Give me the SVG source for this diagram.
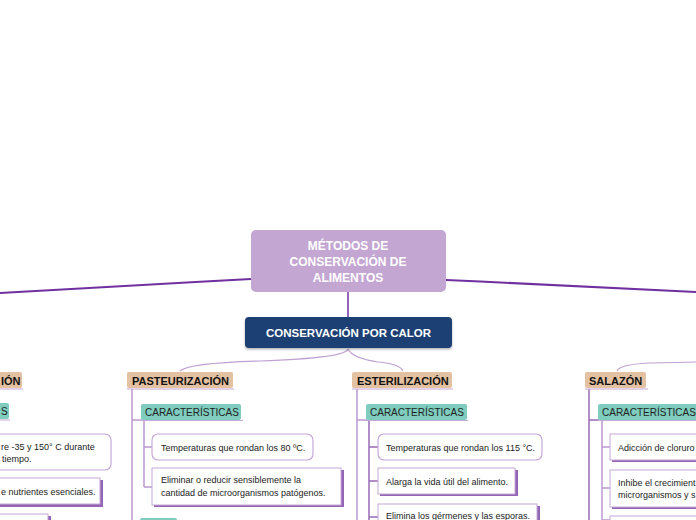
<svg xmlns="http://www.w3.org/2000/svg" width="696" height="520" viewBox="0 0 696 520">
<defs>
<style>
.main{fill:none;stroke:#7030a0;stroke-width:2}
.sub{fill:none;stroke:#bfa0d3;stroke-width:1.2}
.col{fill:none;stroke:#bb98cf;stroke-width:1.5}
.inner{fill:none;stroke:#9a6bb8;stroke-width:1.5}
.tan{fill:#e3c1a1}
.teal{fill:#7ecdbf}
.ul{stroke:#c6a8d8;stroke-width:1.2}
.leafR{fill:#fff;stroke:#c6a8d8;stroke-width:1.2}
.leafS{fill:#fff;stroke:#c6a8d8;stroke-width:1}
.shd{fill:#9565b5}
.t1{font-family:"Liberation Sans",Arial,sans-serif;font-size:11px;font-weight:bold;fill:#111}
.t2{font-family:"Liberation Sans",Arial,sans-serif;font-size:10px;fill:#222}
.t3{font-family:"Liberation Sans",Arial,sans-serif;font-size:9px;fill:#222}
.w{font-family:"Liberation Sans",Arial,sans-serif;font-weight:bold;fill:#fff;text-anchor:middle}
</style>
<filter id="ds" x="-10%" y="-10%" width="120%" height="140%">
<feDropShadow dx="0" dy="1.5" stdDeviation="1" flood-color="#000" flood-opacity="0.3"/>
</filter>
</defs>
<rect width="696" height="520" fill="#fff"/>

<g id="connectors">
<path class="main" d="M251,279 C160,284 60,290 0,293"/>
<path class="main" d="M446,280 C540,284 640,290 696,292"/>
<path class="main" d="M348,292 L348,318" style="stroke-width:1.5"/>
<path class="sub" d="M348,349 Q346,358 260,361 Q188,363 180,371"/>
<path class="sub" d="M348,349 Q352,358 378,362 Q400,364 403,371"/>
<path class="sub" d="M617,371 Q620,364 652,363 L696,362"/>
<path class="col" d="M132,389 L132,520 M132,420 L142,420"/>
<path class="col" d="M144,420 L144,487 M144,447 L153,447 M144,487 L153,487"/>
<path class="col" d="M357,389 L357,520 M357,420 L367,420"/>
<path class="inner" d="M369,420 L369,520 M369,447 L378,447 M369,481 L378,481 M369,517 L378,517"/>
<path class="inner" d="M589,389 L589,520 M589,420 L599,420"/>
<path class="col" d="M602,420 L602,520 M602,447 L610,447 M602,488 L610,488 M602,520 L610,520"/>
</g>

<g id="root">
<rect x="251" y="230" width="195" height="62" rx="5" fill="#c3a6d2"/>
<text class="w" font-size="12" x="348" y="249.5">MÉTODOS DE</text>
<text class="w" font-size="12" x="348" y="266">CONSERVACIÓN DE</text>
<text class="w" font-size="12" x="348" y="281.5">ALIMENTOS</text>
</g>

<g id="calor">
<rect x="245" y="317" width="207" height="31" rx="4" fill="#1a3f73" filter="url(#ds)"/>
<text class="w" font-size="11.5" x="348.5" y="337">CONSERVACIÓN POR CALOR</text>
</g>

<g id="left-node">
<rect class="tan" x="-80" y="372" width="102" height="16" rx="2"/>
<line class="ul" x1="-80" y1="389" x2="23" y2="389"/>
<text class="t1" x="1" y="384.5">IÓN</text>
</g>
<g id="left-car">
<rect class="teal" x="-95" y="403" width="104" height="16" rx="2"/>
<line class="ul" x1="-95" y1="420" x2="10" y2="420"/>
<text class="t2" x="1" y="415">S</text>
</g>
<g id="left-leaf1">
<rect class="leafR" x="-60" y="434" width="171" height="36" rx="6"/>
<text class="t3" x="1" y="450">re -35 y 150° C durante</text>
<text class="t3" x="2" y="462">tiempo.</text>
</g>
<g id="left-leaf2">
<rect class="shd" x="-58" y="480" width="161" height="27"/>
<rect class="leafS" x="-60" y="478" width="160" height="26"/>
<text class="t3" x="1" y="494.5">e nutrientes esenciales.</text>
</g>
<g id="left-leaf3">
<rect class="shd" x="-58" y="516" width="109" height="27"/>
<rect class="leafS" x="-60" y="514" width="108" height="26"/>
</g>

<g id="pasteurizacion">
<rect class="tan" x="127" y="372" width="106" height="16" rx="2"/>
<line class="ul" x1="127" y1="389" x2="234" y2="389"/>
<text class="t1" x="132" y="384.5">PASTEURIZACIÓN</text>
</g>
<g id="past-car">
<rect class="teal" x="141" y="404" width="100" height="16" rx="2"/>
<line class="ul" x1="141" y1="420.5" x2="243" y2="420.5"/>
<text class="t2" x="145" y="415.5">CARACTERÍSTICAS</text>
</g>
<g id="past-leaf1">
<rect class="leafR" x="152" y="434" width="161" height="26" rx="6"/>
<text class="t3" x="161" y="450.5">Temperaturas que rondan los 80 ºC.</text>
</g>
<g id="past-leaf2">
<rect class="shd" x="154" y="470" width="190" height="37"/>
<rect class="leafS" x="152" y="468" width="189" height="37"/>
<text class="t3" x="161" y="482.5">Eliminar o reducir sensiblemente la</text>
<text class="t3" x="161" y="495.5">cantidad de microorganismos patógenos.</text>
</g>
<g id="past-next">
<rect class="teal" x="140" y="518" width="37" height="16" rx="2"/>
</g>

<g id="esterilizacion">
<rect class="tan" x="352" y="372" width="100" height="16" rx="2"/>
<line class="ul" x1="352" y1="389" x2="453" y2="389"/>
<text class="t1" x="357" y="384.5">ESTERILIZACIÓN</text>
</g>
<g id="est-car">
<rect class="teal" x="366" y="404" width="101" height="16" rx="2"/>
<line class="ul" x1="366" y1="420.5" x2="468" y2="420.5"/>
<text class="t2" x="370" y="415.5">CARACTERÍSTICAS</text>
</g>
<g id="est-leaf1">
<rect class="leafR" x="378" y="434" width="164" height="26" rx="6"/>
<text class="t3" x="386" y="450.5">Temperaturas que rondan los 115 °C.</text>
</g>
<g id="est-leaf2">
<rect class="shd" x="380" y="470" width="138" height="26"/>
<rect class="leafS" x="378" y="468" width="137" height="26"/>
<text class="t3" x="386" y="484.5">Alarga la vida útil del alimento.</text>
</g>
<g id="est-leaf3">
<rect class="shd" x="380" y="506" width="160" height="26"/>
<rect class="leafS" x="378" y="504" width="159" height="26"/>
<text class="t3" x="386" y="519">Elimina los gérmenes y las esporas.</text>
</g>

<g id="salazon">
<rect class="tan" x="585" y="372" width="61" height="16" rx="2"/>
<line class="ul" x1="585" y1="389" x2="648" y2="389"/>
<text class="t1" x="589" y="384.5">SALAZÓN</text>
</g>
<g id="sal-car">
<rect class="teal" x="598" y="404" width="110" height="16" rx="2"/>
<line class="ul" x1="598" y1="420.5" x2="710" y2="420.5"/>
<text class="t2" x="602" y="415.5">CARACTERÍSTICAS</text>
</g>
<g id="sal-leaf1">
<rect class="shd" x="612" y="436" width="100" height="26"/>
<rect class="leafS" x="610" y="434" width="100" height="26"/>
<text class="t3" x="618" y="450.5">Adicción de cloruro</text>
</g>
<g id="sal-leaf2">
<rect class="shd" x="612" y="472" width="100" height="37"/>
<rect class="leafS" x="610" y="470" width="100" height="37"/>
<text class="t3" x="618" y="486">Inhibe el crecimient</text>
<text class="t3" x="618" y="498">microrganismos y s</text>
</g>
<g id="sal-leaf3">
<rect class="shd" x="612" y="518" width="100" height="26"/>
<rect class="leafS" x="610" y="516" width="100" height="26"/>
</g>
</svg>
